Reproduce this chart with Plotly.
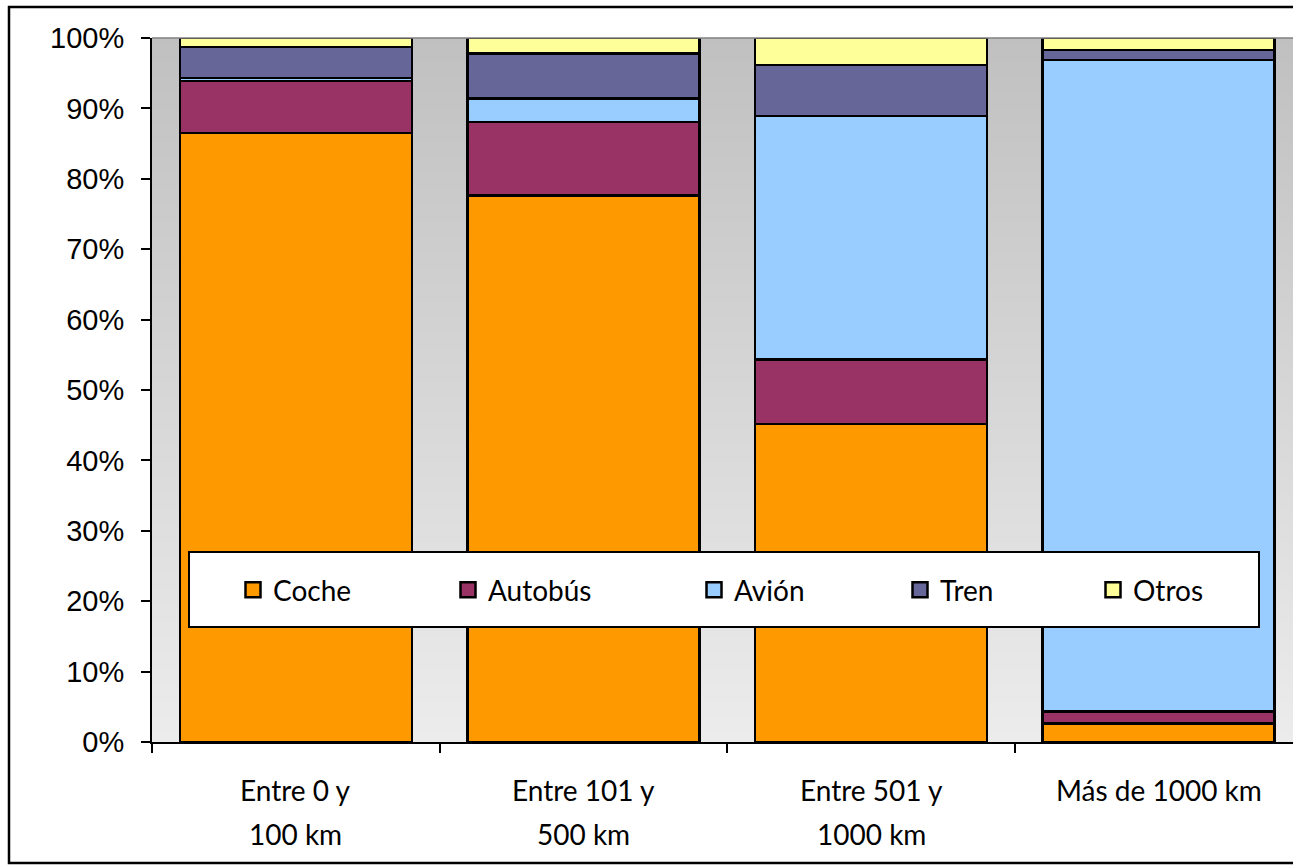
import plotly.graph_objects as go

# Trip distance bands and the share (%) of each transport mode
categories = ["Entre 0 y 100 km", "Entre 101 y 500 km", "Entre 501 y 1000 km", "Más de 1000 km"]
category_lines = [["Entre 0 y", "100 km"], ["Entre 101 y", "500 km"], ["Entre 501 y", "1000 km"], ["Más de 1000 km"]]

coche = [86.5, 77.6, 45.2, 2.6]
autobus = [7.4, 10.5, 9.1, 1.7]
avion = [0.4, 3.3, 34.6, 92.6]
tren = [4.4, 6.4, 7.3, 1.4]
otros = [1.3, 2.2, 3.8, 1.7]

y_ticks = [0, 10, 20, 30, 40, 50, 60, 70, 80, 90, 100]

series = [
    ("Coche", coche, "#FF9900", 170),
    ("Autobús", autobus, "#993366", 201),
    ("Avión", avion, "#99CCFF", 161),
    ("Tren", tren, "#666699", 148),
    ("Otros", otros, "#FFFF99", 100),
]

W, H = 1293, 865
L, T, B = 152, 38, 123
cat_px = 287.6
plot_w = W - L

fig = go.Figure()
for name, vals, color, lw in series:
    fig.add_trace(go.Bar(
        x=categories, y=vals, name=name, legendgroup=name, showlegend=False,
        marker=dict(color=color, line=dict(color="black", width=2.5)),
        width=0.807,
    ))
# legend keys: bordered squares for each mode
for name, vals, color, lw in series:
    fig.add_trace(go.Scatter(
        x=[None], y=[None], name=name, legendgroup=name, mode="markers",
        marker=dict(symbol="square", size=15, color=color, line=dict(color="black", width=2.5)),
        legendwidth=lw, hoverinfo="skip",
    ))

# vertical grey gradient behind the bars
shapes = []
n_bands = 88
top_c, bot_c = 192, 236
for i in range(n_bands):
    f = (i + 0.5) / n_bands
    c = round(bot_c + (top_c - bot_c) * f)
    shapes.append(dict(type="rect", xref="paper", yref="paper",
                       x0=0, x1=1, y0=i / n_bands, y1=(i + 1) / n_bands,
                       fillcolor=f"rgb({c},{c},{c})", line=dict(width=0), layer="below"))
# top edge of the plot area
shapes.append(dict(type="line", xref="paper", yref="paper", x0=0, x1=1, y0=1, y1=1,
                   line=dict(color="#808080", width=1.5), layer="above"))

def px_x(x):
    return (x - L) / plot_w

def px_y(y):
    return (H - B - y) / (H - T - B)

# legend box
shapes.append(dict(type="rect", xref="paper", yref="paper",
                   x0=px_x(189), x1=px_x(1259), y0=px_y(627), y1=px_y(552),
                   fillcolor="white", line=dict(color="black", width=2), layer="above"))
# outer chart border
shapes.append(dict(type="rect", xref="paper", yref="paper",
                   x0=px_x(9), x1=px_x(1320), y0=px_y(863), y1=px_y(7),
                   fillcolor="rgba(0,0,0,0)", line=dict(color="black", width=2.5), layer="above"))

annotations = []
line_y = [790, 834]
for cat, lines in zip(categories, category_lines):
    for k, txt in enumerate(lines):
        annotations.append(dict(x=cat, xref="x", y=px_y(line_y[k]), yref="paper",
                                text=txt, showarrow=False, xanchor="center", yanchor="middle",
                                font=dict(family="Lato", size=28, color="black")))

fig.update_layout(
    width=W, height=H,
    margin=dict(l=L, r=0, t=T, b=B, pad=0),
    barmode="stack",
    paper_bgcolor="white",
    plot_bgcolor="#d6d6d6",
    shapes=shapes,
    annotations=annotations,
    showlegend=True,
    legend=dict(orientation="h", x=px_x(233), xanchor="left", y=px_y(590), yanchor="middle",
                bgcolor="rgba(0,0,0,0)", borderwidth=0,
                font=dict(family="Lato", size=28, color="black"),
                traceorder="normal", itemclick=False, itemdoubleclick=False),
    xaxis=dict(range=[-0.5, -0.5 + plot_w / cat_px], showticklabels=False,
               ticks="outside", tickson="boundaries", ticklen=9, tickwidth=2, tickcolor="black",
               showline=True, linecolor="black", linewidth=2, showgrid=False, zeroline=False),
    yaxis=dict(range=[0, 100], tickvals=y_ticks, ticktext=[f"{v}%" for v in y_ticks],
               ticks="outside", ticklen=9, tickwidth=2, tickcolor="black",
               showline=True, linecolor="black", linewidth=2, showgrid=False, zeroline=False,
               ticklabelstandoff=11,
               tickfont=dict(family="Liberation Sans", size=29, color="black")),
)

fig.write_html("out.html")
